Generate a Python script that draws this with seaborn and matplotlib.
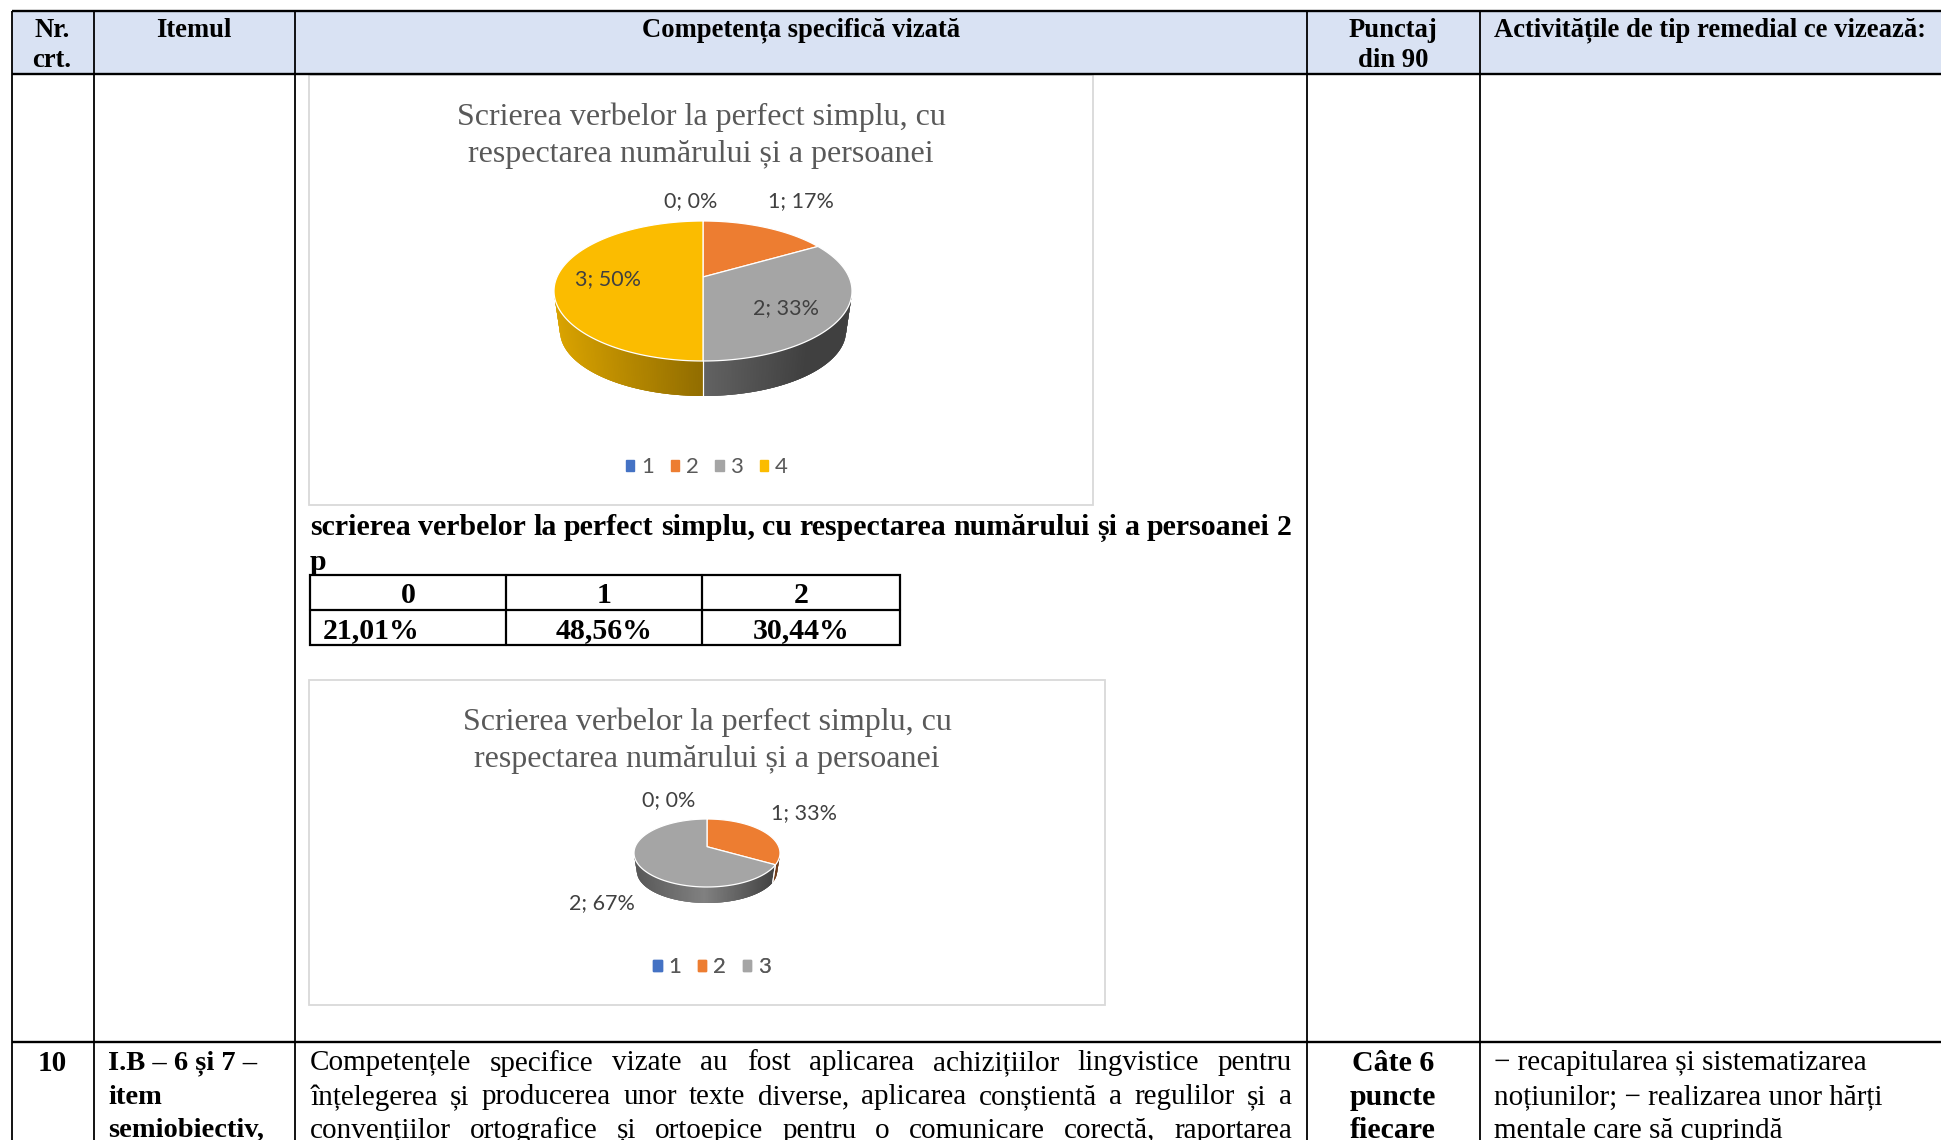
import numpy as np
import matplotlib.pyplot as plt
from matplotlib.patches import Rectangle
import seaborn as sns

# chart data
pie1_title = ['Scrierea verbelor la perfect simplu, cu', 'respectarea numărului și a persoanei']
pie1_legend = ['1', '2', '3', '4']
pie1_values = [0, 1, 2, 3]
pie2_title = ['Scrierea verbelor la perfect simplu, cu', 'respectarea numărului și a persoanei']
pie2_legend = ['1', '2', '3']
pie2_values = [0, 1, 2]

# small table under the first chart
score_headers = ['0', '1', '2']
score_values = ['21,01%', '48,56%', '30,44%']

# main table text
col_lines = [12, 94, 295, 1307, 1480]
header_nr = ['Nr.', 'crt.']
header_item = 'Itemul'
header_comp = 'Competența specifică vizată'
header_points = ['Punctaj', 'din 90']
header_activ = 'Activitățile de tip remedial ce vizează:'
row_nr = '10'
row_item = ['I.B – 6 și 7 –', 'item', 'semiobiectiv,']
row_comp = ['Competențele specifice vizate au fost aplicarea achizițiilor lingvistice pentru',
            'înțelegerea și producerea unor texte diverse, aplicarea conștientă a regulilor și a',
            'convențiilor ortografice și ortoepice pentru o comunicare corectă, raportarea']
row_points = ['Câte 6', 'puncte', 'fiecare']
row_activ = ['− recapitularea și sistematizarea', 'noțiunilor; − realizarea unor hărți', 'mentale care să cuprindă']
bold_line = 'scrierea verbelor la perfect simplu, cu respectarea numărului și a persoanei 2'

colors = sns.color_palette(['#4472C4', '#ED7D31', '#A5A5A5', '#FBBC00'])

W, H = 1941, 1140
sns.set_theme(style='white')
plt.rcParams['font.family'] = ['Liberation Serif', 'DejaVu Sans']

fig = plt.figure(figsize=(W / 100, H / 100), dpi=100)
ax = fig.add_axes([0, 0, 1, 1])
ax.set_xlim(0, W)
ax.set_ylim(H, 0)
ax.axis('off')
ax.set_zorder(5)
renderer = fig.canvas.get_renderer()


def put(x, y, s, size=19.2, bold=False, ha='center', color='black', family='Liberation Serif'):
    if family == 'Liberation Serif':
        y += 2.5
    return ax.text(x, y, s, fontsize=size, fontweight='bold' if bold else 'normal', ha=ha,
                   va='center', color=color, family=family, zorder=5)


def justified(s, x0, x1, y, size=19.2, bold=False):
    # spread the words over the width of the cell
    words = s.split(' ')
    items = [put(x0, y, w, size, bold, ha='left') for w in words]
    widths = [t.get_window_extent(renderer).width for t in items]
    gap = (x1 - x0 - sum(widths)) / (len(words) - 1)
    x = x0
    for t, w in zip(items, widths):
        t.set_x(x)
        x += w + gap


def project(theta, k):
    # perspective view of the unit circle, theta clockwise from the top
    u, v = np.sin(theta), np.cos(theta)
    d = 1 + k * v
    return u * np.sqrt(1 - k ** 2) / d, (v + k) / d


def draw_pie(values, cx, cy, rx, ry, depth, k, shade_x, shade_y):
    pie_ax = fig.add_axes([(cx - rx) / W, 1 - (cy + ry + depth) / H, 2 * rx / W, (2 * ry + depth) / H])
    pie_ax.set_xlim(-1, 1)
    pie_ax.set_ylim(-1 - depth / ry, 1)
    pie_ax.axis('off')
    d = depth / ry
    ends = np.cumsum(values) / np.sum(values) * 2 * np.pi
    starts = np.r_[0, ends[:-1]]

    # the bottom rim is a bit smaller than the top one
    def rim(x, y):
        return x * 0.96, y * 0.93 - d - 0.07

    # side wall first
    for i, (a0, a1) in enumerate(zip(starts, ends)):
        if a1 <= a0:
            continue
        x, y = project(np.linspace(a0, a1, 240), k)
        front = y <= 0
        x, y = x[front], y[front]
        if len(x) < 2:
            continue
        t = (x - x.min()) / max(x.max() - x.min(), 1e-6)
        bx, by = rim(x, y)
        for j in range(len(x) - 1):
            n = min(j + 3, len(x) - 1)
            s = np.interp(t[j], shade_x[i], shade_y[i])
            c = tuple(np.array(colors[i]) * s)
            pie_ax.fill([x[j], x[n], bx[n], bx[j]], [y[j], y[n], by[n], by[j]],
                        color=c, lw=0, clip_on=False, zorder=1)
        for end in (0, -1):
            if abs(x[end]) < 0.99:
                pie_ax.plot([x[end], bx[end]], [y[end], by[end]], color='white', lw=0.8, clip_on=False, zorder=2)
    # top face
    for i, (a0, a1) in enumerate(zip(starts, ends)):
        if a1 <= a0:
            continue
        x, y = project(np.linspace(a0, a1, 200), k)
        pie_ax.fill(np.r_[0, x], np.r_[k, y], facecolor=colors[i], edgecolor='white', lw=0.9,
                    clip_on=False, zorder=3)
    return pie_ax


def pie_labels(values):
    return ['%d; %d%%' % (v, round(100 * v / sum(values))) for v in values]


def draw_legend(names, x, y):
    handles = [Rectangle((0, 0), 1, 1, color=colors[i]) for i in range(len(names))]
    leg = ax.legend(handles, names, loc='center', bbox_to_anchor=(x / W, 1 - y / H), bbox_transform=fig.transFigure,
                    ncol=len(names), frameon=False, handlelength=0.38, handleheight=0.38, handletextpad=0.3,
                    columnspacing=0.75, prop={'family': 'Lato', 'size': 16}, labelcolor='#595959')
    ax.add_artist(leg)


# table frame, drawn on its own axes below the pies
bg = fig.add_axes([0, 0, 1, 1], sharex=ax, sharey=ax)
bg.axis('off')
bg.set_zorder(0)
bg.add_patch(Rectangle((col_lines[0], 11), W - col_lines[0], 62, color='#D9E2F3', lw=0, zorder=0))
for x in col_lines:
    ax.plot([x, x], [11, H], color='black', lw=1.3, zorder=4, solid_capstyle='butt')
for y, lw in [(11, 1.7), (74, 1.7), (1042, 1.7)]:
    ax.plot([col_lines[0], W], [y, y], color='black', lw=lw, zorder=4, solid_capstyle='butt')

# header
put(52, 28, header_nr[0], bold=True)
put(52, 58, header_nr[1], bold=True)
put(194, 28, header_item, bold=True)
put(801, 28, header_comp, bold=True)
put(1393, 28, header_points[0], bold=True)
put(1393, 58, header_points[1], bold=True)
put(1494, 28, header_activ, bold=True, ha='left')

# chart frames
for x0, y0, x1, y1 in [(309, 75, 1093, 505), (309, 680, 1105, 1005)]:
    bg.add_patch(Rectangle((x0, y0), x1 - x0, y1 - y0, facecolor='white', edgecolor='#D9D9D9', lw=1.3, zorder=1))

# first chart
put(701, 115, pie1_title[0], size=23, color='#595959')
put(701, 152, pie1_title[1], size=23, color='#595959')
draw_pie(pie1_values, 703, 291, 149, 70, 35, 0.2,
         [None, None, [0, 0.7, 1], [0, 1]], [None, None, [0.6, 0.39, 0.39], [0.87, 0.58]])
for (x, y), s in zip([(691, 201), (801, 201), (786, 308), (608, 279)], pie_labels(pie1_values)):
    put(x, y, s, size=15.5, color='#404040', family='Lato')
draw_legend(pie1_legend, 707, 467)

# bold line and the small table
justified(bold_line, 310, 1292, 525, size=21.5, bold=True)
put(310, 560, 'p', size=21.5, bold=True, ha='left')
bg.add_patch(Rectangle((310, 575), 590, 70, facecolor='white', edgecolor='none', zorder=1))
ax.add_patch(Rectangle((310, 575), 590, 70, facecolor='none', edgecolor='black', lw=1.6, zorder=4))
ax.plot([310, 900], [610, 610], color='black', lw=1.6, zorder=4)
for x in [506, 702]:
    ax.plot([x, x], [575, 645], color='black', lw=1.6, zorder=4)
for x, s in zip([408, 604, 801], score_headers):
    put(x, 593, s, size=21.5, bold=True)
for x, s in zip([371, 604, 801], score_values):
    put(x, 628, s, size=21.5, bold=True)

# second chart
put(707, 720, pie2_title[0], size=23, color='#595959')
put(707, 757, pie2_title[1], size=23, color='#595959')
draw_pie(pie2_values, 707, 853, 73, 34, 16, 0.185,
         [None, [0, 1], [0, 0.5, 1]], [None, [0.5, 0.4], [0.53, 0.78, 0.41]])
for (x, y), s in zip([(669, 800), (804, 813), (602, 903)], pie_labels(pie2_values)):
    put(x, y, s, size=15.5, color='#404040', family='Lato')
draw_legend(pie2_legend, 712, 967)

# row 10
ys = [1061, 1095, 1128]
put(52, ys[0], row_nr, size=21, bold=True)
for y, a, b, c, d in zip(ys, row_item, row_comp, row_points, row_activ):
    put(108, y, a, size=20.5, bold=True, ha='left')
    justified(b, 310, 1292, y, size=21)
    put(1393, y, c, size=21.5, bold=True)
    put(1494, y, d, size=21, ha='left')

fig.savefig('out.png', dpi=100)
